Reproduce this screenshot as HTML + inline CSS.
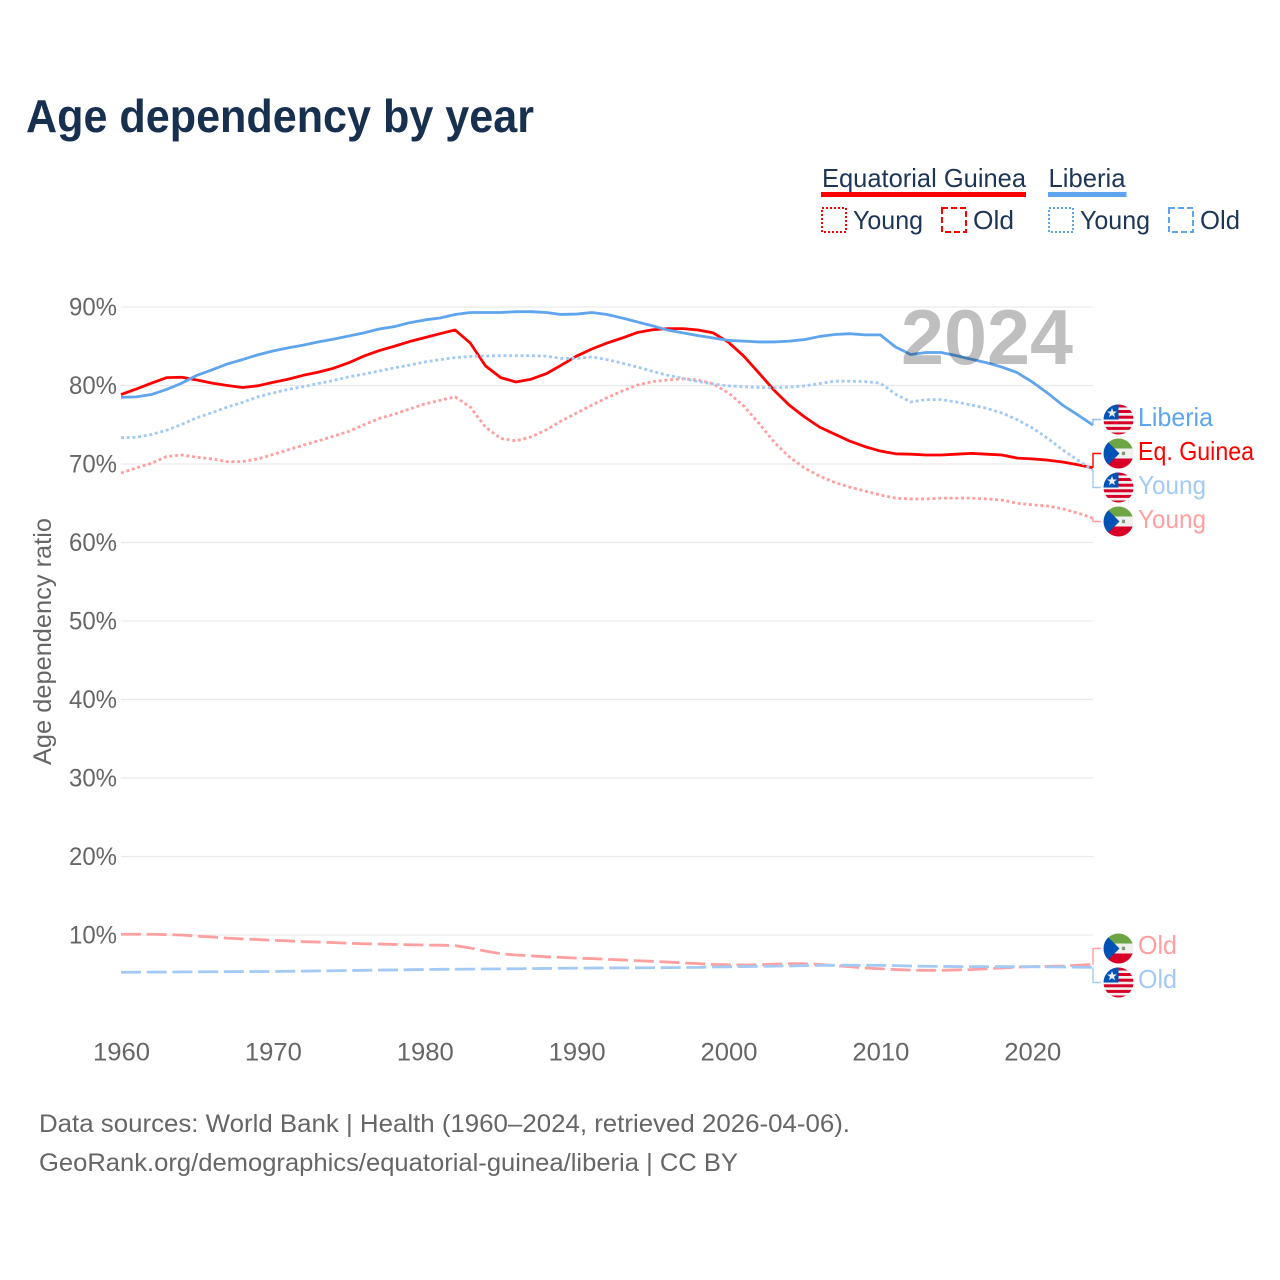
<!DOCTYPE html>
<html lang="en">
<head>
<meta charset="utf-8">
<title>Age dependency by year</title>
<style>
html,body{margin:0;padding:0;background:#fff;}
svg{display:block;font-family:"Liberation Sans",sans-serif;}
</style>
</head>
<body>
<svg id="chart" xmlns="http://www.w3.org/2000/svg" width="1280" height="1280" viewBox="0 0 1280 1280">
<defs>
<clipPath id="flag-clip"><circle cx="0" cy="0" r="15"/></clipPath>
<g id="flag-liberia" clip-path="url(#flag-clip)">
<rect x="-15" y="-15" width="30" height="30" fill="#f0f0f0"/>
<rect x="-15" y="-15" width="30" height="3" fill="#d80027"/>
<rect x="-1" y="-9.5" width="16" height="3" fill="#d80027"/>
<rect x="-1" y="-3.8" width="16" height="3" fill="#d80027"/>
<rect x="-15" y="1.8" width="30" height="3" fill="#d80027"/>
<rect x="-15" y="7.4" width="30" height="3" fill="#d80027"/>
<rect x="-15" y="13" width="30" height="3" fill="#d80027"/>
<rect x="-15" y="-15" width="15" height="15" fill="#0052b4"/>
<polygon points="-6.5,-11.5 -5.2,-8 -1.6,-8 -4.5,-5.8 -3.4,-2.4 -6.5,-4.4 -9.6,-2.4 -8.5,-5.8 -11.4,-8 -7.8,-8" fill="#f0f0f0"/>
</g>
<g id="flag-eq-guinea" clip-path="url(#flag-clip)">
<rect x="-15" y="-15" width="30" height="10" fill="#6da544"/>
<rect x="-15" y="-5" width="30" height="10" fill="#f0f0f0"/>
<rect x="-15" y="5" width="30" height="10" fill="#d80027"/>
<polygon points="-15,-15 -14,-15 1,0 -14,15 -15,15" fill="#0052b4"/>
<rect x="3.4" y="-1.8" width="3.2" height="3.4" fill="#7d9a70"/>
</g>
</defs>

<text x="26" y="132" font-size="46" font-weight="700" fill="#18304f" textLength="508" lengthAdjust="spacingAndGlyphs">Age dependency by year</text>

<g font-size="26" fill="#1d3557">
<text x="822" y="187" textLength="204" lengthAdjust="spacingAndGlyphs">Equatorial Guinea</text>
<rect x="821" y="192" width="205" height="5" fill="#ff0000"/>
<text x="1048.5" y="187" textLength="77" lengthAdjust="spacingAndGlyphs">Liberia</text>
<rect x="1048" y="192" width="78.5" height="5" fill="#5fa5ee"/>
<rect x="822" y="208" width="24" height="24" fill="none" stroke="#ff0000" stroke-width="2" stroke-dasharray="2 2"/>
<text x="853" y="229" textLength="70" lengthAdjust="spacingAndGlyphs">Young</text>
<rect x="942" y="208" width="24" height="24" fill="none" stroke="#ff0000" stroke-width="2" stroke-dasharray="6 3"/>
<text x="973" y="229" textLength="41" lengthAdjust="spacingAndGlyphs">Old</text>
<rect x="1049" y="208" width="24" height="24" fill="none" stroke="#5fa5ee" stroke-width="2" stroke-dasharray="2 2"/>
<text x="1080" y="229" textLength="70" lengthAdjust="spacingAndGlyphs">Young</text>
<rect x="1169" y="208" width="24" height="24" fill="none" stroke="#5fa5ee" stroke-width="2" stroke-dasharray="6 3"/>
<text x="1200" y="229" textLength="40" lengthAdjust="spacingAndGlyphs">Old</text>
</g>

<g id="grid"></g>
<g id="y-ticks"></g>
<g id="x-ticks"></g>
<text transform="translate(51,765) rotate(-90)" font-size="25" fill="#666666" textLength="247" lengthAdjust="spacingAndGlyphs">Age dependency ratio</text>
<g id="series"></g>
<g id="connectors"></g>

<text x="901" y="364" font-size="78" font-weight="700" fill="#000000" fill-opacity="0.25" textLength="172" lengthAdjust="spacingAndGlyphs">2024</text>

<use href="#flag-liberia" x="1118.5" y="419.5"/>
<use href="#flag-eq-guinea" x="1118.5" y="453.5"/>
<use href="#flag-liberia" x="1118.5" y="487.5"/>
<use href="#flag-eq-guinea" x="1118.5" y="521.5"/>
<use href="#flag-eq-guinea" x="1118.5" y="948.5"/>
<use href="#flag-liberia" x="1118.5" y="982.5"/>

<g font-size="26">
<text x="1138" y="426" fill="#5fa5ee" textLength="75" lengthAdjust="spacingAndGlyphs">Liberia</text>
<text x="1138" y="460" fill="#ff0000" textLength="116" lengthAdjust="spacingAndGlyphs">Eq. Guinea</text>
<text x="1138" y="494" fill="#a3caf5" textLength="68" lengthAdjust="spacingAndGlyphs">Young</text>
<text x="1138" y="528" fill="#ff9f9f" textLength="68" lengthAdjust="spacingAndGlyphs">Young</text>
<text x="1138" y="954" fill="#ff9f9f" textLength="39" lengthAdjust="spacingAndGlyphs">Old</text>
<text x="1138" y="988" fill="#a3caf5" textLength="39" lengthAdjust="spacingAndGlyphs">Old</text>
</g>

<g font-size="25" fill="#666666">
<text x="39" y="1132" textLength="811" lengthAdjust="spacingAndGlyphs">Data sources: World Bank | Health (1960–2024, retrieved 2026-04-06).</text>
<text x="39" y="1171" textLength="699" lengthAdjust="spacingAndGlyphs">GeoRank.org/demographics/equatorial-guinea/liberia | CC BY</text>
</g>
</svg>
<script>
const yTickValues = [10, 20, 30, 40, 50, 60, 70, 80, 90];
const xTickValues = [1960, 1970, 1980, 1990, 2000, 2010, 2020];
const startYear = 1960;
const egTotal = [78.85,79.55,80.3,81.0,81.05,80.7,80.3,80.0,79.75,79.96,80.4,80.8,81.3,81.7,82.2,82.9,83.75,84.45,85.0,85.6,86.1,86.6,87.07,85.4,82.5,81.0,80.45,80.8,81.5,82.6,83.75,84.65,85.4,86.05,86.75,87.1,87.25,87.25,87.07,86.7,85.5,83.75,81.6,79.4,77.5,76.0,74.7,73.8,72.9,72.2,71.65,71.3,71.25,71.15,71.15,71.25,71.35,71.25,71.15,70.75,70.65,70.5,70.25,69.9,69.5];
const egYoung = [68.85,69.5,70.1,70.95,71.15,70.85,70.65,70.3,70.3,70.65,71.2,71.8,72.4,72.95,73.55,74.15,75.0,75.8,76.35,77.0,77.65,78.1,78.55,77.25,74.7,73.25,72.95,73.45,74.35,75.5,76.5,77.5,78.45,79.3,80.05,80.5,80.7,80.85,80.7,80.2,79.05,77.4,75.2,72.8,70.9,69.5,68.45,67.65,67.05,66.55,66.05,65.65,65.55,65.55,65.65,65.65,65.65,65.55,65.4,65.0,64.8,64.65,64.3,63.75,63.1];
const egOld = [10.1,10.1,10.1,10.05,10.0,9.85,9.75,9.6,9.5,9.42,9.32,9.25,9.15,9.1,9.03,8.95,8.88,8.85,8.8,8.76,8.72,8.7,8.65,8.35,7.95,7.62,7.45,7.35,7.22,7.15,7.05,7.0,6.9,6.82,6.72,6.65,6.55,6.45,6.35,6.25,6.2,6.18,6.2,6.28,6.35,6.33,6.25,6.1,5.95,5.8,5.7,5.6,5.52,5.5,5.5,5.55,5.6,5.7,5.8,5.9,5.97,6.0,6.05,6.15,6.25];
const lrTotal = [78.5,78.55,78.85,79.5,80.3,81.3,82.0,82.75,83.3,83.9,84.4,84.8,85.15,85.55,85.9,86.3,86.7,87.2,87.5,88.0,88.35,88.6,89.05,89.3,89.3,89.3,89.4,89.4,89.3,89.05,89.1,89.3,89.05,88.6,88.1,87.6,87.05,86.7,86.35,86.05,85.75,85.65,85.55,85.55,85.65,85.85,86.25,86.5,86.6,86.45,86.45,84.9,83.95,84.2,84.2,83.8,83.35,82.9,82.35,81.65,80.45,79.05,77.5,76.25,74.95];
const lrYoung = [73.35,73.4,73.75,74.3,75.05,75.9,76.55,77.25,77.85,78.55,79.05,79.5,79.85,80.25,80.65,81.1,81.45,81.85,82.25,82.6,83.0,83.3,83.55,83.7,83.75,83.8,83.8,83.8,83.75,83.45,83.45,83.65,83.3,82.85,82.35,81.8,81.3,80.9,80.5,80.2,79.95,79.85,79.75,79.7,79.8,79.95,80.25,80.55,80.55,80.5,80.3,78.9,77.9,78.2,78.2,77.9,77.5,77.1,76.5,75.65,74.6,73.3,71.8,70.5,69.2];
const lrOld = [5.25,5.26,5.27,5.28,5.3,5.31,5.32,5.33,5.34,5.35,5.35,5.38,5.4,5.43,5.45,5.48,5.5,5.53,5.55,5.58,5.6,5.63,5.64,5.65,5.67,5.68,5.7,5.72,5.74,5.76,5.78,5.79,5.8,5.81,5.82,5.83,5.84,5.86,5.88,5.92,5.95,5.98,6.0,6.03,6.06,6.1,6.14,6.14,6.14,6.14,6.14,6.1,6.05,6.02,6.0,5.98,5.96,5.96,5.96,5.96,5.96,5.94,5.92,5.9,5.88];

const NS = 'http://www.w3.org/2000/svg';
function xScale(year) { return 121 + (year - startYear) * (1093 - 121) / 64; }
function yScale(v) { return 935 - (v - 10) * 7.85; }
function make(tag, attrs, parent, text) {
  const el = document.createElementNS(NS, tag);
  for (const k in attrs) el.setAttribute(k, attrs[k]);
  if (text !== undefined) el.textContent = text;
  parent.appendChild(el);
  return el;
}

const gridG = document.getElementById('grid');
const yTickG = document.getElementById('y-ticks');
const xTickG = document.getElementById('x-ticks');
yTickValues.forEach(function (v) {
  const line = make('line', { x1: 121, x2: 1093, y1: yScale(v), y2: yScale(v), stroke: '#e9e9e9', 'stroke-width': 1.3 }, gridG);
  
  
  const t = make('text', { x: 117, y: yScale(v) + 8.5, 'text-anchor': 'end', 'font-size': 25, fill: '#666666', textLength: 48, lengthAdjust: 'spacingAndGlyphs' }, yTickG, v + '%');
  
  
});
xTickValues.forEach(function (yr) {
  const t = make('text', { x: xScale(yr) - 28, y: 1060.5, 'font-size': 25, fill: '#666666', textLength: 57, lengthAdjust: 'spacingAndGlyphs' }, xTickG, String(yr));
  
  
});

function pathFrom(values) {
  return values.map(function (v, i) {
    return (i ? 'L' : 'M') + xScale(startYear + i).toFixed(2) + ' ' + yScale(v).toFixed(2);
  }).join('');
}
const seriesG = document.getElementById('series');
const connG = document.getElementById('connectors');
function drawSeries(values, name, color, dash) {
  const p = make('path', { d: pathFrom(values), fill: 'none', stroke: color, 'stroke-width': 2.8, 'stroke-linejoin': 'round' }, seriesG);
  if (dash) p.setAttribute('stroke-dasharray', dash);
  
  
}
function drawConnector(values, labelY, name, color) {
  const endY = yScale(values[values.length - 1]);
  const c = make('path', { d: 'M1093 ' + endY.toFixed(2) + 'V' + labelY + 'H1101', fill: 'none', stroke: color, 'stroke-width': 1.4 }, connG);
  
  
}
drawSeries(egTotal, 'line-eq-guinea-total', '#ff0000', '');
drawSeries(egYoung, 'line-eq-guinea-young', '#ff9f9f', '3 2.7');
drawSeries(egOld, 'line-eq-guinea-old', '#ff9f9f', '20 5.7');
drawSeries(lrTotal, 'line-liberia-total', '#5fa5ee', '');
drawSeries(lrYoung, 'line-liberia-young', '#a3caf5', '3 2.7');
drawSeries(lrOld, 'line-liberia-old', '#a3caf5', '20 5.7');
drawConnector(lrTotal, 419.5, 'connector-liberia-total', '#8fbff2');
drawConnector(egTotal, 453.5, 'connector-eq-guinea-total', '#ff0000');
drawConnector(lrYoung, 487.5, 'connector-liberia-young', '#a3caf5');
drawConnector(egYoung, 521.5, 'connector-eq-guinea-young', '#ff9f9f');
drawConnector(egOld, 948.5, 'connector-eq-guinea-old', '#ff9f9f');
drawConnector(lrOld, 982.5, 'connector-liberia-old', '#a3caf5');
</script>
</body>
</html>
